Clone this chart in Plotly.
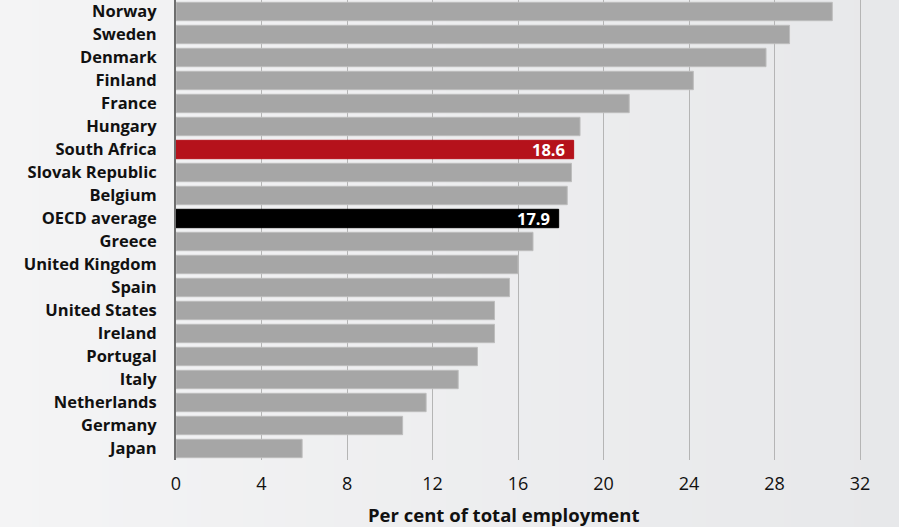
import base64
import struct
import zlib
import plotly.graph_objects as go

countries = ["Norway", "Sweden", "Denmark", "Finland", "France", "Hungary", "South Africa",
             "Slovak Republic", "Belgium", "OECD average", "Greece", "United Kingdom", "Spain",
             "United States", "Ireland", "Portugal", "Italy", "Netherlands", "Germany", "Japan"]
values = [30.7, 28.7, 27.6, 24.2, 21.2, 18.9, 18.6, 18.5, 18.3, 17.9, 16.7, 16.0, 15.6,
          14.9, 14.9, 14.1, 13.2, 11.7, 10.6, 5.9]
highlight = {"South Africa": "#b5121b", "OECD average": "#000000"}
tick_vals = [0, 4, 8, 12, 16, 20, 24, 28, 32]
x_title = "Per cent of total employment"

colors = [highlight.get(c, "#a6a6a6") for c in countries]
line_colors = [highlight.get(c, "#bdbdbd") for c in countries]


def gradient_png(c0, c1, n=128):
    row = b"\x00" + b"".join(
        bytes(int(round(a + (b - a) * i / (n - 1))) for a, b in zip(c0, c1)) for i in range(n))
    def chunk(tag, data):
        return struct.pack(">I", len(data)) + tag + data + struct.pack(">I", zlib.crc32(tag + data) & 0xffffffff)
    png = b"\x89PNG\r\n\x1a\n" + chunk(b"IHDR", struct.pack(">IIBBBBB", n, 1, 8, 2, 0, 0, 0)) \
        + chunk(b"IDAT", zlib.compress(row)) + chunk(b"IEND", b"")
    return "data:image/png;base64," + base64.b64encode(png).decode()


W, H = 899, 527
L, B = 176, 67
pw, ph = W - L, H - B

fig = go.Figure(go.Bar(
    y=countries, x=values, orientation="h",
    marker=dict(color=colors, line=dict(color=line_colors, width=1)),
    hoverinfo="x+y",
))

for c, v in zip(countries, values):
    if c in highlight:
        fig.add_annotation(x=v, y=c, text=f"<b>{v:.1f}</b>", showarrow=False,
                           xanchor="right", xshift=-7,
                           font=dict(family="Open Sans", size=16.5, color="white"))

fig.add_annotation(xref="paper", yref="paper", x=(503 - L) / pw, y=-(514 - ph) / ph * -1 if False else (ph - 514) / ph,
                   text=f"<b>{x_title}</b>", showarrow=False, xanchor="center", yanchor="middle",
                   font=dict(family="Open Sans", size=18.5, color="#111111"))

fig.add_layout_image(
    source=gradient_png((244, 244, 245), (231, 232, 234)),
    xref="paper", yref="paper", x=-L / pw, y=1, sizex=W / pw, sizey=H / ph,
    xanchor="left", yanchor="top", sizing="stretch", layer="below",
)

fig.update_layout(
    width=W, height=H,
    margin=dict(l=L, r=0, t=0, b=B),
    paper_bgcolor="#eeeff0", plot_bgcolor="rgba(0,0,0,0)",
    bargap=0.2, showlegend=False,
    font=dict(family="Open Sans", color="#111111"),
)
fig.update_xaxes(
    range=[0, 33.82], tickvals=tick_vals, ticktext=[str(t) for t in tick_vals],
    showgrid=True, gridcolor="#b5b5b5", gridwidth=1,
    zeroline=False, showline=False, ticks="", ticklabelstandoff=11,
    tickfont=dict(size=18, family="Open Sans", color="#111111"),
)
fig.update_yaxes(
    categoryorder="array", categoryarray=countries, autorange="reversed",
    showgrid=False, showline=True, linecolor="#6e6e6e", linewidth=2,
    ticks="", ticklabelstandoff=14,
    tickfont=dict(size=16.5, family="Open Sans", weight="bold", color="#111111"),
)

fig.write_html("out.html")
